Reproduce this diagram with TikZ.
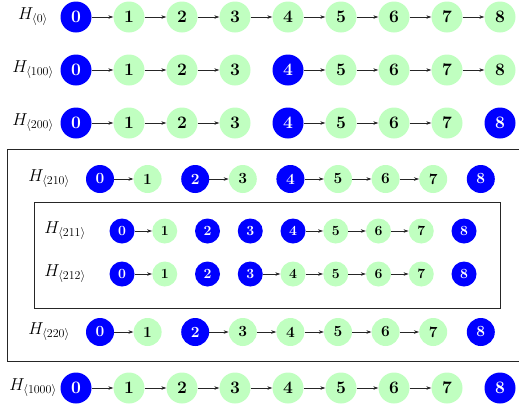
\documentclass[tikz,border=0pt]{standalone}
\usetikzlibrary{arrows.meta}
\definecolor{nblue}{RGB}{0,0,255}
\definecolor{ngreen}{RGB}{192,255,192}
\tikzset{
 bnode/.style={circle,fill=nblue,text=white,inner sep=0pt},
 gnode/.style={circle,fill=ngreen,text=black,inner sep=0pt},
 bigc/.style={minimum size=31pt,font=\fontsize{17.5}{18}\selectfont\bfseries},
 medc/.style={minimum size=28pt,font=\fontsize{15.5}{16}\selectfont\bfseries},
 smallc/.style={minimum size=25pt,font=\fontsize{14}{14}\selectfont\bfseries},
 arr/.style={-{Stealth[length=5pt,width=3.5pt]},line width=0.6pt,black!85},
 lab/.style={font=\fontsize{17}{19}\selectfont,inner sep=0pt},
 frame/.style={draw=black!85,line width=0.9pt}
}
\newcommand\drawrow[6]{%
 \foreach \c [count=\i from 0] in {#6} \node[\c,#5] (#1-\i) at ({#3+\i*#4},#2) {\i};
}
\begin{document}
\begin{tikzpicture}[x=1pt,y=-1pt]
\useasboundingbox (0,0) rectangle (519,405);
% boxes
\draw[frame] (7,149) rectangle (521,361);
\draw[frame] (34,202) rectangle (500,308);
% labels
\node[lab] (l1) at (33,17) {$H_{\langle 0\rangle}$};
\node[lab] (l2) at (33,70) {$H_{\langle 100\rangle}$};
\node[lab] (l3) at (33,123) {$H_{\langle 200\rangle}$};
\node[lab] (l4) at (49,179) {$H_{\langle 210\rangle}$};
\node[lab] (l5) at (65,231) {$H_{\langle 211\rangle}$};
\node[lab] (l6) at (65,274) {$H_{\langle 212\rangle}$};
\node[lab] (l7) at (49,332) {$H_{\langle 220\rangle}$};
\node[lab] (l8) at (33,388) {$H_{\langle 1000\rangle}$};
% rows
\drawrow{ra}{17}{76}{53}{bigc}{bnode,gnode,gnode,gnode,gnode,gnode,gnode,gnode,gnode}
\foreach \a/\b in {0/1,1/2,2/3,3/4,4/5,5/6,6/7,7/8} \draw[arr] (ra-\a) -- (ra-\b);
\drawrow{rb}{70}{76}{53}{bigc}{bnode,gnode,gnode,gnode,bnode,gnode,gnode,gnode,gnode}
\foreach \a/\b in {0/1,1/2,2/3,4/5,5/6,6/7,7/8} \draw[arr] (rb-\a) -- (rb-\b);
\drawrow{rc}{123}{76}{53}{bigc}{bnode,gnode,gnode,gnode,bnode,gnode,gnode,gnode,bnode}
\foreach \a/\b in {0/1,1/2,2/3,4/5,5/6,6/7} \draw[arr] (rc-\a) -- (rc-\b);
\drawrow{rd}{179}{100}{47.6}{medc}{bnode,gnode,bnode,gnode,bnode,gnode,gnode,gnode,bnode}
\foreach \a/\b in {0/1,2/3,4/5,5/6,6/7} \draw[arr] (rd-\a) -- (rd-\b);
\drawrow{re}{231}{122}{42.75}{smallc}{bnode,gnode,bnode,bnode,bnode,gnode,gnode,gnode,bnode}
\foreach \a/\b in {0/1,4/5,5/6,6/7} \draw[arr] (re-\a) -- (re-\b);
\drawrow{rf}{274}{122}{42.75}{smallc}{bnode,gnode,bnode,bnode,gnode,gnode,gnode,gnode,bnode}
\foreach \a/\b in {0/1,3/4,4/5,5/6,6/7} \draw[arr] (rf-\a) -- (rf-\b);
\drawrow{rg}{332}{100}{47.6}{medc}{bnode,gnode,bnode,gnode,gnode,gnode,gnode,gnode,bnode}
\foreach \a/\b in {0/1,2/3,3/4,4/5,5/6,6/7} \draw[arr] (rg-\a) -- (rg-\b);
\drawrow{rh}{388}{76}{53}{bigc}{bnode,gnode,gnode,gnode,gnode,gnode,gnode,gnode,bnode}
\foreach \a/\b in {0/1,1/2,2/3,3/4,4/5,5/6,6/7} \draw[arr] (rh-\a) -- (rh-\b);
\end{tikzpicture}
\end{document}
